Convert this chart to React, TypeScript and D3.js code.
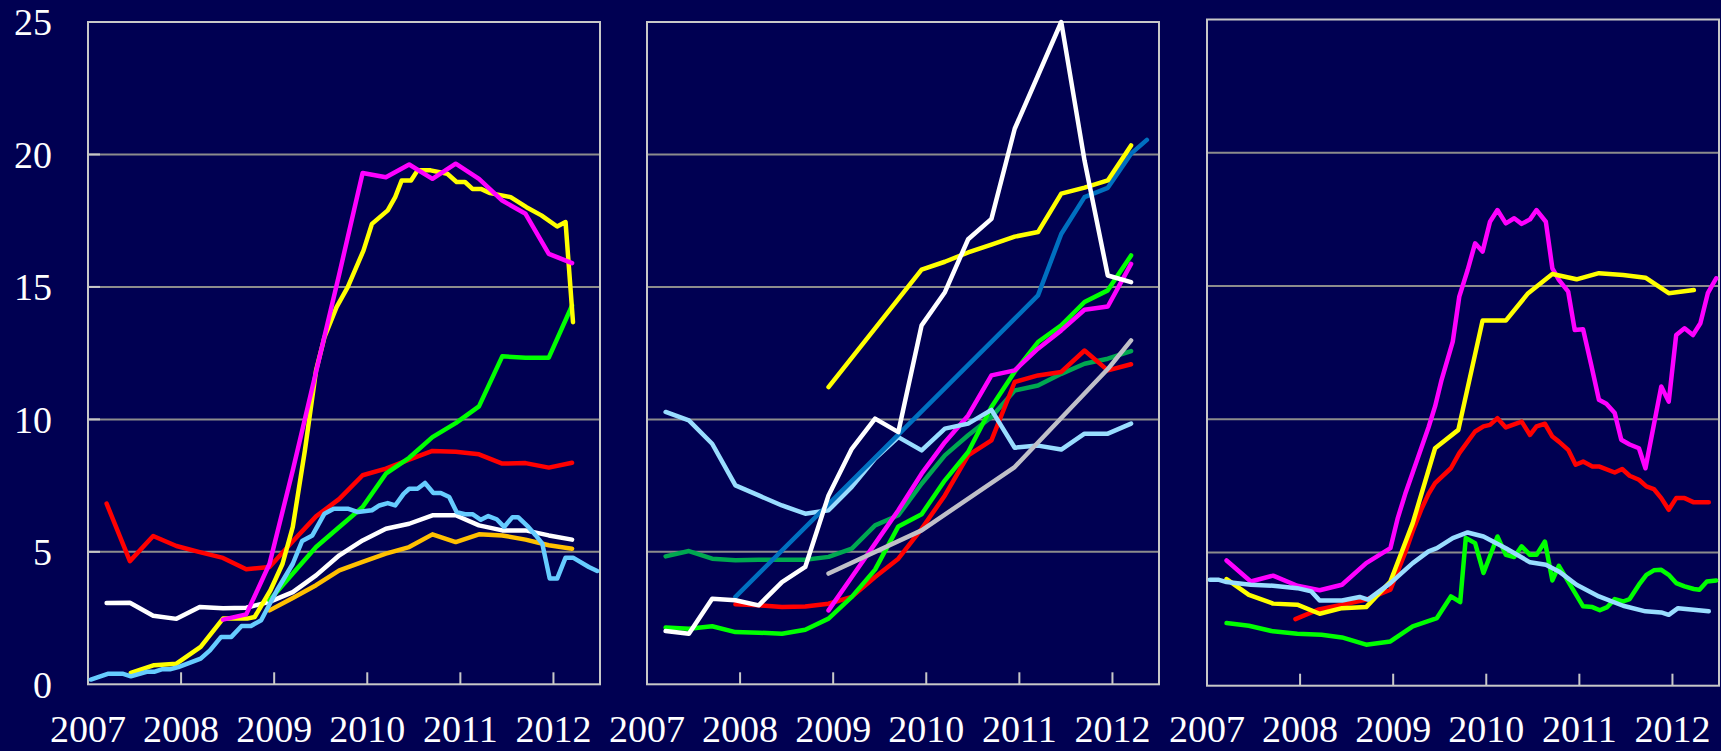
import React from "react";
import * as d3 from "d3";

// shared quarterly dates (fractional year)
const quarterDates = [
  2007.2, 2007.45, 2007.7, 2007.95, 2008.2, 2008.45, 2008.7, 2008.95, 2009.2, 2009.45, 2009.7,
  2009.95, 2010.2, 2010.45, 2010.7, 2010.95, 2011.2, 2011.45, 2011.7, 2011.95, 2012.2, 2012.45,
];

const yearLabels = ["2007", "2008", "2009", "2010", "2011", "2012"];
const yTicks = [0, 5, 10, 15, 20, 25];

// ---- panel 1 ----
const p1Red = [6.82, 4.65, 5.6, 5.22, 4.99, 4.77, 4.34, 4.43, 5.4, 6.34, 7.0, 7.89, 8.14, 8.48, 8.81, 8.78, 8.68, 8.33, 8.35, 8.18, 8.36];
const p1White = [3.07, 3.08, 2.59, 2.47, 2.92, 2.87, 2.89, 3.11, 3.48, 4.11, 4.87, 5.43, 5.87, 6.06, 6.38, 6.38, 6.0, 5.81, 5.81, 5.62, 5.46];
const p1Orange = [2.79, 3.26, 3.74, 4.3, 4.62, 4.93, 5.18, 5.66, 5.37, 5.66, 5.62, 5.46, 5.25, 5.12]; // from q7
const p1Green = [3.17, 4.18, 5.18, 5.94, 6.69, 7.95, 8.55, 9.33, 9.86, 10.49, 12.38, 12.33, 12.33, 14.3]; // from q7
const p1Magenta = [2.44, 2.64, 4.55, 8.08, 11.8, 15.5, 19.3, 19.14, 19.62, 19.08, 19.65, 19.08, 18.26, 17.76, 16.25, 15.9]; // from q5
const p1Yellow: [number, number][] = [
  [2007.46, 0.43], [2007.71, 0.72], [2007.95, 0.78], [2008.21, 1.41], [2008.45, 2.48], [2008.71, 2.48],
  [2008.79, 2.54], [2008.96, 3.55], [2009.09, 4.55], [2009.2, 5.94], [2009.33, 8.83], [2009.45, 11.85],
  [2009.54, 13.1], [2009.67, 14.24], [2009.79, 14.99], [2009.96, 16.38], [2010.05, 17.38], [2010.22, 17.89],
  [2010.3, 18.39], [2010.37, 19.02], [2010.47, 19.02], [2010.54, 19.4], [2010.68, 19.4], [2010.86, 19.27],
  [2010.96, 18.96], [2011.05, 18.96], [2011.13, 18.7], [2011.22, 18.7], [2011.32, 18.54], [2011.54, 18.39],
  [2011.71, 18.01], [2011.87, 17.7], [2012.04, 17.28], [2012.13, 17.45], [2012.21, 13.67],
];
const p1LightBlue: [number, number][] = [
  [2007.03, 0.18], [2007.22, 0.4], [2007.37, 0.4], [2007.46, 0.3], [2007.63, 0.47], [2007.71, 0.47],
  [2007.8, 0.57], [2007.88, 0.57], [2007.97, 0.65], [2008.21, 0.97], [2008.31, 1.28], [2008.43, 1.79],
  [2008.54, 1.79], [2008.65, 2.2], [2008.75, 2.2], [2008.86, 2.42], [2009.03, 3.55], [2009.2, 4.55],
  [2009.3, 5.41], [2009.41, 5.62], [2009.54, 6.44], [2009.64, 6.63], [2009.79, 6.63], [2009.9, 6.5],
  [2010.05, 6.57], [2010.13, 6.75], [2010.22, 6.84], [2010.3, 6.75], [2010.39, 7.19], [2010.45, 7.38],
  [2010.54, 7.38], [2010.62, 7.6], [2010.71, 7.22], [2010.79, 7.22], [2010.88, 7.07], [2010.96, 6.5],
  [2011.05, 6.42], [2011.13, 6.42], [2011.22, 6.21], [2011.3, 6.35], [2011.39, 6.23], [2011.47, 5.94],
  [2011.56, 6.31], [2011.62, 6.31], [2011.73, 5.94], [2011.81, 5.62], [2011.88, 5.31], [2011.96, 3.99],
  [2012.04, 3.99], [2012.13, 4.78], [2012.21, 4.78], [2012.38, 4.43], [2012.47, 4.28],
];

// ---- panel 2 ----
const p2LightBlue = [10.28, 9.96, 9.08, 7.51, 7.13, 6.75, 6.44, 6.57, 7.45, 8.52, 9.33, 8.83, 9.65, 9.84, 10.36, 8.93, 9.01, 8.86, 9.46, 9.46, 9.84];
const p2DarkGreen = [4.83, 5.03, 4.74, 4.68, 4.7, 4.7, 4.7, 4.81, 5.12, 6.0, 6.38, 7.57, 8.64, 9.4, 10.09, 11.09, 11.28, 11.72, 12.1, 12.29, 12.58];
const p2Green = [2.14, 2.1, 2.19, 1.97, 1.95, 1.91, 2.06, 2.48, 3.3, 4.33, 5.96, 6.42, 7.7, 8.77, 10.47, 11.8, 12.92, 13.55, 14.43, 14.87, 16.19];
const p2Magenta = [2.79, 4.05, 5.31, 6.57, 7.95, 9.14, 10.15, 11.66, 11.85, 12.67, 13.36, 14.14, 14.26, 15.87]; // from q7
const p2Red = [3.02, 2.98, 2.92, 2.94, 3.04, 3.3, 4.05, 4.74, 5.87, 7.13, 8.64, 9.21, 11.41, 11.66, 11.79, 12.6, 11.85, 12.08]; // from q3
const p2White = [2.01, 1.91, 3.23, 3.17, 2.98, 3.86, 4.43, 7.13, 8.89, 10.03, 9.52, 13.55, 14.8, 16.8, 17.57, 20.97, 22.98, 25.0, 19.77, 15.43, 15.18];
const p2Blue: [number, number][] = [
  [2007.95, 3.3], [2008.95, 6.8], [2009.95, 10.3], [2010.95, 13.8], [2011.2, 14.68], [2011.45, 17.0],
  [2011.7, 18.39], [2011.95, 18.74], [2012.2, 20.03], [2012.37, 20.55],
];
const p2Gray: [number, number][] = [[2008.95, 4.18], [2009.95, 5.81], [2010.95, 8.2], [2011.95, 11.9], [2012.2, 12.98]];
const p2Yellow: [number, number][] = [
  [2008.95, 11.22], [2009.95, 15.65], [2010.2, 15.95], [2010.45, 16.3], [2010.7, 16.6], [2010.95, 16.9],
  [2011.2, 17.07], [2011.45, 18.52], [2011.7, 18.75], [2011.95, 19.02], [2012.2, 20.34],
];

// ---- panel 3 ----
const p3Green: [number, number][] = [
  [2007.21, 2.35], [2007.45, 2.25], [2007.71, 2.04], [2007.97, 1.95], [2008.23, 1.91], [2008.45, 1.81],
  [2008.71, 1.54], [2008.97, 1.66], [2009.21, 2.23], [2009.47, 2.54], [2009.62, 3.35], [2009.72, 3.14],
  [2009.78, 5.54], [2009.88, 5.35], [2009.97, 4.23], [2010.12, 5.6], [2010.21, 4.91], [2010.3, 4.83],
  [2010.38, 5.23], [2010.47, 4.91], [2010.54, 4.91], [2010.63, 5.41], [2010.71, 3.95], [2010.78, 4.5],
  [2011.04, 2.98], [2011.14, 2.95], [2011.22, 2.83], [2011.3, 2.95], [2011.38, 3.25], [2011.47, 3.16],
  [2011.54, 3.25], [2011.64, 3.79], [2011.72, 4.16], [2011.8, 4.33], [2011.88, 4.35], [2011.96, 4.16],
  [2012.04, 3.85], [2012.13, 3.73], [2012.23, 3.63], [2012.29, 3.6], [2012.37, 3.91], [2012.47, 3.95],
];
const p3Red: [number, number][] = [
  [2007.95, 2.5], [2008.19, 2.85], [2008.45, 3.04], [2008.71, 3.23], [2008.97, 3.6], [2009.05, 4.3],
  [2009.13, 5.0], [2009.21, 5.8], [2009.3, 6.6], [2009.38, 7.2], [2009.45, 7.6], [2009.62, 8.16],
  [2009.71, 8.73], [2009.88, 9.54], [2009.97, 9.73], [2010.04, 9.79], [2010.12, 10.04], [2010.21, 9.69],
  [2010.38, 9.91], [2010.47, 9.41], [2010.54, 9.73], [2010.63, 9.83], [2010.71, 9.35], [2010.78, 9.16],
  [2010.88, 8.85], [2010.96, 8.29], [2011.04, 8.41], [2011.14, 8.23], [2011.21, 8.23], [2011.38, 8.0],
  [2011.46, 8.13], [2011.54, 7.88], [2011.64, 7.73], [2011.72, 7.48], [2011.8, 7.38], [2011.88, 7.04],
  [2011.96, 6.6], [2012.04, 7.04], [2012.13, 7.04], [2012.23, 6.88], [2012.39, 6.88],
];
const p3Magenta: [number, number][] = [
  [2007.21, 4.7], [2007.47, 3.91], [2007.71, 4.13], [2007.97, 3.75], [2008.21, 3.58], [2008.45, 3.79],
  [2008.71, 4.6], [2008.97, 5.16], [2009.05, 6.3], [2009.13, 7.2], [2009.21, 8.0], [2009.3, 8.9],
  [2009.38, 9.7], [2009.45, 10.48], [2009.52, 11.48], [2009.64, 12.91], [2009.71, 14.6], [2009.8, 15.6],
  [2009.88, 16.6], [2009.96, 16.29], [2010.04, 17.41], [2010.12, 17.85], [2010.21, 17.35], [2010.3, 17.54],
  [2010.38, 17.33], [2010.47, 17.5], [2010.54, 17.85], [2010.64, 17.41], [2010.71, 15.66], [2010.78, 15.23],
  [2010.88, 14.79], [2010.95, 13.35], [2011.04, 13.38], [2011.13, 12.0], [2011.21, 10.73], [2011.29, 10.58],
  [2011.38, 10.23], [2011.45, 9.23], [2011.54, 9.05], [2011.64, 8.91], [2011.71, 8.16], [2011.88, 11.23],
  [2011.96, 10.66], [2012.04, 13.16], [2012.13, 13.41], [2012.22, 13.16], [2012.3, 13.6], [2012.38, 14.73],
  [2012.47, 15.29],
];
const p3Yellow: [number, number][] = [
  [2007.21, 4.0], [2007.45, 3.41], [2007.71, 3.08], [2007.97, 3.04], [2008.21, 2.7], [2008.45, 2.91],
  [2008.71, 2.95], [2008.97, 3.91], [2009.21, 6.1], [2009.45, 8.91], [2009.7, 9.6], [2009.96, 13.7],
  [2010.21, 13.7], [2010.45, 14.73], [2010.71, 15.45], [2010.97, 15.25], [2011.21, 15.48], [2011.47, 15.41],
  [2011.71, 15.31], [2011.96, 14.73], [2012.23, 14.85],
];
const p3LightBlue: [number, number][] = [
  [2007.03, 3.98], [2007.12, 3.98], [2007.21, 3.89], [2007.47, 3.79], [2007.71, 3.75], [2007.97, 3.66],
  [2008.12, 3.54], [2008.21, 3.2], [2008.45, 3.2], [2008.64, 3.33], [2008.73, 3.23], [2008.97, 3.85],
  [2009.21, 4.6], [2009.38, 5.04], [2009.47, 5.16], [2009.64, 5.54], [2009.8, 5.75], [2009.97, 5.6],
  [2010.21, 5.16], [2010.47, 4.63], [2010.64, 4.54], [2010.78, 4.29], [2010.97, 3.79], [2011.21, 3.35],
  [2011.47, 3.0], [2011.71, 2.79], [2011.88, 2.75], [2011.96, 2.66], [2012.06, 2.91], [2012.39, 2.79],
];

// quarterly values -> [date, value] pairs
const q = (vals: number[], start = 0): [number, number][] => vals.map((v, i) => [quarterDates[start + i], v]);

type Series = { color: string; data: [number, number][] };

const panels: { left: number; top: number; bottom: number; series: Series[]; yAxis: boolean }[] = [
  {
    left: 88, top: 22, bottom: 684.3, yAxis: true,
    series: [
      { color: "#ff0000", data: q(p1Red) },
      { color: "#ffc000", data: q(p1Orange, 7) },
      { color: "#ffffff", data: q(p1White) },
      { color: "#00ff00", data: q(p1Green, 7) },
      { color: "#ffff00", data: p1Yellow },
      { color: "#ff00ff", data: q(p1Magenta, 5) },
      { color: "#66ccff", data: p1LightBlue },
    ],
  },
  {
    left: 647, top: 22, bottom: 684.3, yAxis: false,
    series: [
      { color: "#00a850", data: q(p2DarkGreen) },
      { color: "#ff0000", data: q(p2Red, 3) },
      { color: "#00ff00", data: q(p2Green) },
      { color: "#ff00ff", data: q(p2Magenta, 7) },
      { color: "#99ddff", data: q(p2LightBlue) },
      { color: "#c0c0c8", data: p2Gray },
      { color: "#0070c0", data: p2Blue },
      { color: "#ffff00", data: p2Yellow },
      { color: "#ffffff", data: q(p2White) },
    ],
  },
  {
    left: 1207, top: 19.5, bottom: 685.7, yAxis: false,
    series: [
      { color: "#00ff00", data: p3Green },
      { color: "#ff0000", data: p3Red },
      { color: "#ff00ff", data: p3Magenta },
      { color: "#ffff00", data: p3Yellow },
      { color: "#99ddff", data: p3LightBlue },
    ],
  },
];

const W = 1721;
const H = 751;
const PANEL_W = 512;
const FONT = "'Liberation Serif', 'Times New Roman', serif";

const Panel = ({ p }: { p: (typeof panels)[number] }) => {
  const x = d3.scaleLinear().domain([2007, 2012.5]).range([p.left, p.left + PANEL_W]);
  const y = d3.scaleLinear().domain([0, 25]).range([p.bottom, p.top]);
  const line = d3
    .line<[number, number]>()
    .x((d) => x(d[0]))
    .y((d) => y(d[1]));

  return (
    <g>
      {[5, 10, 15, 20].map((v) => (
        <line key={v} x1={x(2007)} x2={x(2012.5)} y1={y(v)} y2={y(v)} stroke="#8c8c8c" strokeWidth={2} />
      ))}
      {p.yAxis &&
        [5, 10, 15, 20].map((v) => (
          <line key={"t" + v} x1={x(2007)} x2={x(2007) + 12} y1={y(v)} y2={y(v)} stroke="#c8c8c8" strokeWidth={2} />
        ))}
      <rect
        x={x(2007)}
        y={y(25)}
        width={PANEL_W}
        height={y(0) - y(25)}
        fill="none"
        stroke="#c8c8c8"
        strokeWidth={2}
      />
      {[2008, 2009, 2010, 2011, 2012].map((yr) => (
        <line key={yr} x1={x(yr)} x2={x(yr)} y1={y(0)} y2={y(0) - 12} stroke="#c8c8c8" strokeWidth={2} />
      ))}
      {p.series.map((s, i) => (
        <path
          key={i}
          d={line(s.data) ?? ""}
          fill="none"
          stroke={s.color}
          strokeWidth={4.5}
          strokeLinejoin="round"
          strokeLinecap="round"
        />
      ))}
      {yearLabels.map((lab) => (
        <text key={lab} x={x(+lab)} y={742} textAnchor="middle" fontSize={38} fill="#ffffff" fontFamily={FONT}>
          {lab}
        </text>
      ))}
      {p.yAxis &&
        yTicks.map((v) => (
          <text
            key={"y" + v}
            x={52}
            y={y(v)}
            dy="0.35em"
            textAnchor="end"
            fontSize={38}
            fill="#ffffff"
            fontFamily={FONT}
          >
            {v}
          </text>
        ))}
    </g>
  );
};

export default function App() {
  return (
    <svg
      width={W}
      height={H}
      style={{ position: "absolute", left: 0, top: 0, display: "block" }}
      xmlns="http://www.w3.org/2000/svg"
    >
      <rect width={W} height={H} fill="#000052" />
      {panels.map((p, i) => (
        <Panel key={i} p={p} />
      ))}
    </svg>
  );
}
